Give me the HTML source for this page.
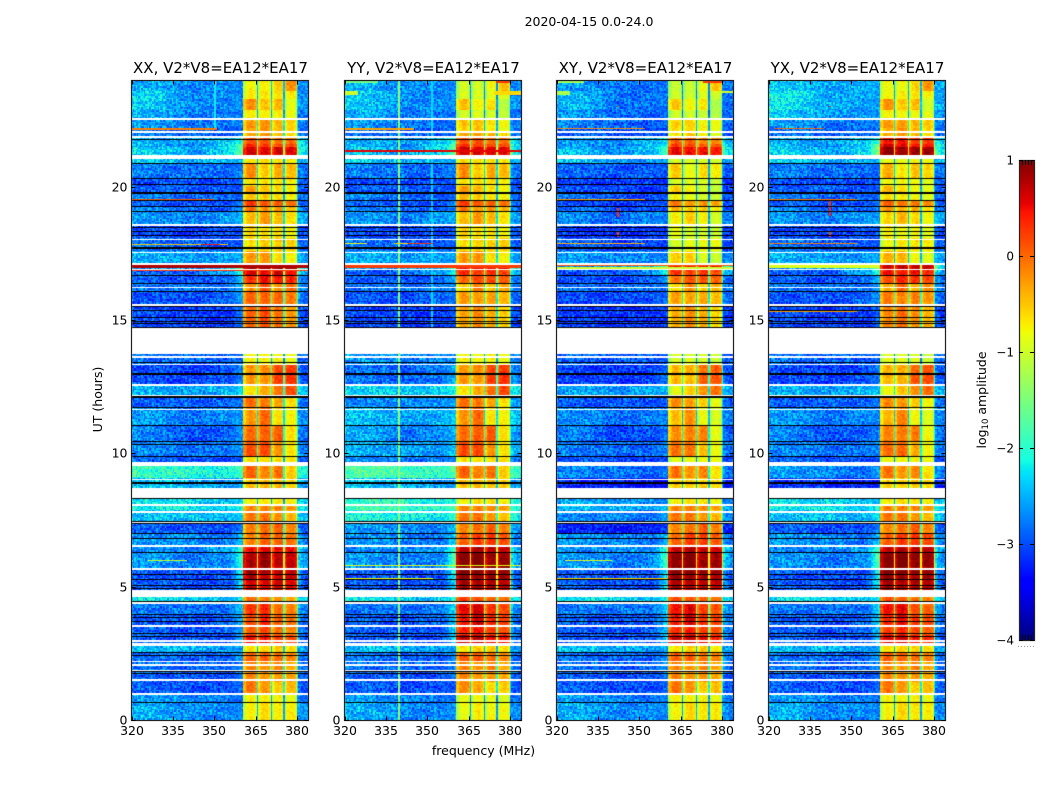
<!DOCTYPE html>
<html lang="en">
<head>
<meta charset="utf-8">
<title>2020-04-15 0.0-24.0</title>
<style>
html,body{margin:0;padding:0;background:#fff;}
#figure{position:relative;width:1050px;height:800px;overflow:hidden;background:#fff;}
canvas{position:absolute;display:block;}
#overlay{position:absolute;left:0;top:0;}
text{font-family:"DejaVu Sans","Liberation Sans",sans-serif;fill:#000;}
</style>
</head>
<body>
<div id="figure">
<svg id="overlay" width="1050" height="800">
<text x="589" y="26" font-size="12.5" text-anchor="middle">2020-04-15 0.0-24.0</text>
<text x="483.5" y="755" font-size="12.5" text-anchor="middle">frequency (MHz)</text>
<text transform="translate(102,399.5) rotate(-90)" font-size="12.5" text-anchor="middle">UT (hours)</text>
<text transform="translate(986,400) rotate(-90)" font-size="12.5" text-anchor="middle">log<tspan font-size="8.5" dy="2">10</tspan><tspan dy="-2"> amplitude</tspan></text>
</svg>
</div>
<script>
// ---------- chart data ----------
const panelTitles = ["XX, V2*V8=EA12*EA17","YY, V2*V8=EA12*EA17","XY, V2*V8=EA12*EA17","YX, V2*V8=EA12*EA17"];
const freqTicks = [320,335,350,365,380];
const hourTicks = [0,5,10,15,20];
const colorbarTicks = [1,0,-1,-2,-3,-4];

// topHour, bottomHour, background near 327, 342, 352 MHz, sub-bands 1..4 (log10 amplitude)
const timeSpans = [
[24.0,23.55,-2.5,-2.7,-2.7,-0.8,-0.8,-0.6,-0.25],
[23.55,23.25,-2.3,-2.7,-2.7,-0.75,-0.75,-0.7,-0.75],
[23.25,22.87,-2.35,-2.7,-2.7,-0.25,-0.55,-0.45,-0.95],
[22.87,22.5,-2.5,-2.75,-2.8,-0.75,-0.75,-0.8,-0.9],
[22.5,22.18,-2.6,-2.8,-2.8,-0.3,-0.3,-0.5,-0.6],
[22.18,21.85,-2.8,-2.9,-2.9,-0.4,-0.3,-0.5,-0.65],
[21.85,21.62,-2.5,-2.6,-2.4,0.1,0.1,-0.1,-0.1],
[21.62,21.45,-2.5,-2.7,-2.3,0.3,0.2,0.1,0.1],
[21.45,21.2,-2.3,-2.6,-2.3,0.6,0.55,0.55,0.5],
[21.2,20.85,-2.3,-2.5,-2.5,-0.7,-0.7,-0.7,-0.75],
[20.85,20.3,-2.75,-2.85,-2.85,-0.25,-0.6,-0.4,-0.5],
[20.3,20.06,-3,-3,-3,-0.7,-0.7,-0.7,-0.8],
[20.06,19.75,-2.9,-2.9,-3,-0.3,-0.5,-0.7,-0.8],
[19.75,19.5,-2.7,-2.9,-2.9,-0.5,-0.6,-0.7,-0.8],
[19.5,19.27,-2.9,-3,-3,0.2,0,0,-0.1],
[19.27,19.07,-2.7,-2.9,-2.9,-0.1,-0.3,-0.3,-0.5],
[19.07,18.6,-2.6,-2.8,-2.6,-0.5,-0.3,-0.5,-0.7],
[18.6,18.05,-3,-3.1,-3,-0.6,-0.7,-0.7,-0.8],
[18.05,17.55,-2.8,-2.95,-2.95,-0.7,-0.6,-0.6,-0.6],
[17.55,17.08,-2.5,-2.6,-2.6,-0.3,-0.3,-0.7,-0.8],
[17.08,16.88,-2.6,-2.6,-2.3,0.8,0.8,0.8,0.8],
[16.88,16.65,-2.9,-2.9,-2.6,0.6,0.5,0.6,0.45],
[16.65,16.35,-2.9,-3,-2.9,0.25,0.45,0.4,0.3],
[16.35,16.05,-2.8,-2.8,-2.8,-0.3,0.1,-0.3,-0.1],
[16.05,15.6,-2.95,-3,-2.9,0,-0.05,-0.05,-0.15],
[15.6,14.68,-3,-3.1,-3.1,-0.05,0.1,-0.1,-0.3],
[13.76,13.35,-2.8,-2.9,-2.9,-0.8,-0.8,-0.8,-0.9],
[13.35,12.97,-3,-3.1,-3,-0.3,-0.25,0.1,0.2],
[12.97,12.58,-3,-3.1,-3,-0.3,-0.3,0.2,0.25],
[12.58,12.15,-2.5,-2.6,-2.5,-0.7,-0.4,-0.1,0.1],
[12.15,11.7,-2.9,-2.9,-2.9,-0.05,-0.15,-0.4,-0.7],
[11.7,11.05,-2.6,-2.8,-2.7,-0.3,-0.05,-0.7,-0.8],
[11.05,10.45,-2.7,-3.0,-2.9,-0.05,0,0,-0.7],
[10.45,9.88,-2.7,-2.8,-2.8,0.1,0.1,-0.3,-0.7],
[9.88,9.53,-2.9,-3,-3,-0.7,-0.7,-0.7,-0.7],
[9.53,9.04,-1.9,-2.0,-2.1,0,-0.2,-0.1,-0.6],
[9.04,8.7,-2.4,-2.5,-2.6,-0.5,-0.5,-0.5,-0.6],
[8.32,8.08,-2.2,-2.3,-2.4,-0.8,-0.7,-0.7,-0.8],
[8.08,7.84,-2.1,-2.2,-2.3,-0.2,-0.2,-0.2,-0.3],
[7.84,7.46,-2.4,-2.4,-2.5,-0.1,-0.1,-0.3,-0.5],
[7.46,7.0,-2.9,-3,-3,-0.2,-0.1,0,-0.2],
[7.0,6.55,-2.6,-2.7,-2.8,-0.2,0,0,-0.1],
[6.55,6.28,-2.7,-2.7,-2.6,0.45,0.55,0.45,0.45],
[6.28,5.68,-2.6,-2.8,-2.7,0.75,0.85,0.65,0.65],
[5.68,5.47,-2.9,-3,-3,0.8,0.75,0.65,0.65],
[5.47,5.27,-3,-3,-3,0.75,0.65,0.6,0.6],
[5.27,4.83,-2.9,-3,-3,0.6,0.55,0.55,0.5],
[4.62,4.42,-2.2,-2.3,-2.4,-0.1,-0.2,-0.3,-0.4],
[4.42,3.97,-2.8,-2.8,-2.8,0.2,0.3,-0.1,-0.2],
[3.97,3.55,-2.9,-3,-2.9,0.1,0.3,0,-0.1],
[3.55,3.15,-2.9,-3,-2.9,0,0.1,-0.1,-0.2],
[3.15,2.88,-2.9,-3,-3,0.4,0.4,0.2,0.1],
[2.79,2.55,-2.4,-2.5,-2.6,-0.7,-0.6,-0.6,-0.7],
[2.55,2.21,-2.8,-2.9,-2.9,0,0,-0.1,-0.2],
[2.21,1.74,-2.8,-2.9,-2.9,-0.2,-0.3,-0.2,-0.4],
[1.74,1.46,-2.9,-3,-3,-0.2,-0.3,-0.3,-0.4],
[1.46,1.03,-2.9,-3,-3,-0.1,-0.3,-0.6,-0.5],
[0.94,0.66,-2.6,-2.7,-2.8,-0.8,-0.8,-0.8,-0.9],
[0.66,0,-2.5,-2.7,-2.7,-0.8,-0.65,-0.75,-0.75]
];

// panel index, topHour, bottomHour, background change, sub-band change
const panelOffsets = [
[1,24,22,0,-0.25],[1,17.1,14.68,0,-0.3],[1,13.76,9.53,0.2,0],[1,9.53,9.04,0.15,0],[1,8.32,7,0.3,0],
[1,7,4.83,0,0.2],[1,4.62,2.88,0,0.3],[1,1.5,0,0,-0.1],
[2,24,17.1,-0.1,-0.3],[2,21.85,21.2,0,0.2],[2,17.1,14.68,-0.05,-0.35],[2,13.76,9.53,-0.05,-0.2],
[2,9.53,8.7,-0.8,-0.1],[2,8.32,7,-0.3,0],[2,7,4.83,0,0.15],[2,4.62,2.88,0,0.25],
[3,24,22.5,0.15,-0.05],[3,21.85,21.2,0,0.3],[3,21.2,14.68,0,-0.15],[3,13.76,9.53,0,-0.15],
[3,9.53,8.7,-0.7,-0.1],[3,7,4.83,0,0.2],[3,4.62,2.88,0,0.2]
];

// masked (blank) time ranges: topHour, bottomHour
const maskedSpans = [
[22.56,22.5],[22.07,22.01],[21.88,21.83],[21.2,21.05],[18.59,18.54],[18.04,17.99],[17.56,17.51],[17.12,17.06],
[16.91,16.87],[16.24,16.19],[15.59,15.54],[14.68,13.76],[13.63,13.57],[13.36,13.3],[12.61,12.57],[12.55,12.51],
[12.2,12.15],[11.66,11.61],[9.67,9.53],[9.05,9.0],[8.7,8.32],[8.09,8.02],[7.85,7.78],[7.44,7.4],[6.56,6.47],
[5.69,5.64],[4.83,4.62],[4.41,4.36],[3.56,3.5],[2.99,2.93],[2.88,2.79],[2.22,2.17],[2.09,2.04],[1.89,1.84],
[1.53,1.46],[1.03,0.94]
];

// black flagged rows: centre hour, thickness in hours
const blackRows = [
[21.78,0.035],[20.88,0.035],[20.3,0.035],[20.07,0.035],[19.77,0.09],[19.47,0.035],[19.27,0.035],[19.08,0.035],
[18.45,0.035],[18.3,0.035],[18.16,0.035],[17.7,0.08],[16.66,0.035],[16.35,0.035],[16.05,0.035],[15.52,0.035],
[15.37,0.035],[15.1,0.035],[14.95,0.035],[14.87,0.035],[14.7,0.035],[13.39,0.035],[12.97,0.07],[12.1,0.07],
[11.7,0.035],[11.05,0.035],[10.45,0.05],[10.33,0.035],[9.88,0.07],[8.9,0.07],[8.3,0.05],[7.46,0.035],[7.37,0.035],
[7.0,0.035],[6.82,0.035],[6.28,0.035],[5.47,0.035],[5.27,0.035],[5.03,0.035],[4.95,0.035],[4.45,0.035],[3.97,0.035],
[3.86,0.035],[3.69,0.035],[3.26,0.035],[3.15,0.035],[2.55,0.035],[2.42,0.035],[1.81,0.035],[1.74,0.035],[0.66,0.035]
];

// interference streaks: panel, topHour, height (hours), startMHz, endMHz, level
const streaks = [
[0,22.18,0.04,320,351,-0.1],[0,19.53,0.04,320,350,0.1],[0,17.85,0.04,320,355,-0.5],[0,17.85,0.04,345,352,0.4],
[0,17.06,0.13,320,384,0.8],[0,16.87,0.05,320,384,0.3],[0,6.01,0.03,326,340,-1],
[1,23.97,0.08,320,332,-1.5],[1,23.97,0.08,375,380,0.3],[1,23.6,0.15,320,325,-1.0],[1,23.6,0.15,374,384,-0.6],
[1,22.18,0.04,320,345,-0.3],[1,21.37,0.08,320,384,0.55],[1,19.1,0.04,320,355,-0.8],[1,17.87,0.04,320,328,-0.8],
[1,17.87,0.04,338,352,-0.6],[1,17.87,0.04,343,352,0.3],[1,17.06,0.12,320,384,0.25],[1,14.89,0.04,320,352,-0.1],
[1,5.82,0.04,320,384,-0.9],[1,5.34,0.04,320,352,-0.8],
[2,23.97,0.08,320,330,-1.2],[2,23.97,0.08,373,380,0.3],[2,23.6,0.15,320,325,-1.2],[2,23.6,0.1,378,384,-1],
[2,23.02,0.05,342,342.5,0.3],[2,22.19,0.04,320,352,-0.2],[2,22.07,0.04,320,352,-1],[2,19.52,0.04,320,352,-0.3],
[2,19.2,0.35,342,342.5,0.3],[2,18.35,0.25,342,342.5,0.2],[2,17.87,0.04,320,352,-0.4],[2,17.08,0.07,320,384,0.1],
[2,17.0,0.08,320,384,-1],[2,5.99,0.03,323,340,-0.9],[2,5.33,0.03,320,360,-0.6],
[3,22.19,0.04,322,340,0],[3,22.07,0.04,320,352,-0.8],[3,19.52,0.04,320,352,-0.1],[3,19.1,0.04,320,352,-0.4],
[3,19.5,0.6,342,342.5,0.3],[3,18.35,0.25,342,342.5,0.2],[3,17.87,0.04,320,352,-0.1],[3,17.05,0.12,320,360,-0.9],
[3,15.35,0.04,320,352,-0.3],[3,14.9,0.04,320,352,-0.3],[3,23.02,0.05,342,342.5,0.3]
];

// single-channel interference: panel, MHz, level, topHour, bottomHour
const channelLines = [
[0,350,-2.2,24,22.2],[1,339.5,-1.4,24,0],[1,351.5,-2.3,24,14.68]
];

// shape of the spectrum, estimated by eye (bandpass roll-off, edge ramp, right-hand shoulder)
const bandShape = [-0.28,-0.06,0.03,0.08,0.1,0.1,0.06,-0.02,-0.18];
const rampShape = [0.02,0.04,0.07,0.1,0.14,0.18,0.22,0.26,0.3,0.34];
const shoulderShape = [0.18,0.12,0.08,0.05,0.03,0.02,0.02];
// channel-to-channel residual texture (approximate, not a pixel readout)
const speckle = "2805173966041827359901472683150974426831775092364018852637190443782516690237815504926173384097126654830199275346018762593140887326051948273365019482766310945287701536924480163759218846027351196640827534";

// ---------- axes ----------
const panelLefts = [131.5,344.5,556.5,768.5];
const plotTop = 80.5, plotBottom = 720.5, pxPerMHz = 2.76, pxPerHour = 26.67;
const xOf = (mhz, left) => left + (mhz - 320) * pxPerMHz;
const yOf = hour => 720 - hour * pxPerHour;

function jetChannel(v, pts){
  for (let i = 1; i < pts.length; i++) {
    if (v <= pts[i][0]) {
      const a = pts[i-1], b = pts[i];
      return a[1] + (b[1]-a[1]) * (v-a[0]) / (b[0]-a[0]);
    }
  }
  return pts[pts.length-1][1];
}
const jetR = [[0,0],[0.35,0],[0.66,1],[0.89,1],[1,0.5]];
const jetG = [[0,0],[0.125,0],[0.375,1],[0.64,1],[0.91,0],[1,0]];
const jetB = [[0,0.5],[0.11,1],[0.34,1],[0.65,0],[1,0]];
function colorOf(level){
  const v = Math.max(0, Math.min(1, (level + 4) / 5));
  return "rgb(" + Math.round(255*jetChannel(v,jetR)) + "," + Math.round(255*jetChannel(v,jetG)) + "," + Math.round(255*jetChannel(v,jetB)) + ")";
}

const channelWidth = 0.5, rowHeight = 0.06;
const subBands = [[360.5,365.5],[366,370.5],[371,375],[375.5,380]];
const gapStarts = [365.5,370.5,375,380];

function grainAt(col, row, panel){
  const i = (col*7 + row*53 + panel*31) % speckle.length;
  return (Number(speckle[i]) - 4.5) / 4.5;
}
function offsetsAt(panel, hour){
  let bg = 0, band = 0;
  panelOffsets.forEach(o => {
    if (o[0] === panel && hour <= o[1] && hour > o[2]) { bg += o[3]; band += o[4]; }
  });
  return [bg, band];
}
function backgroundAt(span, f, off){
  let b;
  if (f < 327.5) b = span[2];
  else if (f < 342.5) b = span[2] + (span[3]-span[2]) * (f-327.5) / 15;
  else if (f < 352.5) b = span[3] + (span[4]-span[3]) * (f-342.5) / 10;
  else b = span[4];
  return b + off[0];
}
function levelAt(span, f, col, row, panel, off){
  const g = grainAt(col, row, panel);
  const s = span.slice(5).map(v => v + off[1]);
  const mean = (s[0]+s[1]+s[2]+s[3]) / 4;
  const bgC = span[4] + off[0];
  const lift = Math.max(0, mean + 0.6);
  if (f < 355.5) return backgroundAt(span, f, off) + g * 0.4;
  if (f < 360.5) {
    const k = Math.floor((f - 355.5) / channelWidth);
    return bgC + rampShape[k] * lift * 2 + g * 0.28;
  }
  if (gapStarts.indexOf(f) >= 0) return mean - 1.8 + g * 0.12;
  if (f > 380) {
    const k = Math.floor((f - 380.5) / channelWidth);
    return bgC + shoulderShape[Math.min(k, shoulderShape.length-1)] * Math.max(0, mean + 1) * 1.5 + g * 0.32;
  }
  for (let b = 0; b < 4; b++) {
    const r = subBands[b];
    if (f >= r[0] && f < r[1]) {
      const t = (f - r[0]) / (r[1] - r[0]);
      return s[b] + bandShape[Math.floor(t * bandShape.length)] + g * 0.14;
    }
  }
  return mean - 1.8;
}

const figure = document.getElementById("figure");
const overlay = document.getElementById("overlay");
const NS = "http://www.w3.org/2000/svg";

function drawPanel(panel){
  const left = panelLefts[panel];
  const canvas = document.createElement("canvas");
  
  
  const W = 177, H = 640, ox = Math.floor(left), oy = 80;
  canvas.width = W; canvas.height = H;
  canvas.style.left = ox + "px";
  canvas.style.top = oy + "px";
  figure.insertBefore(canvas, overlay);
  const ctx = canvas.getContext("2d");
  ctx.fillStyle = "#fff";
  ctx.fillRect(0,0,W,H);

  const band = (hourTop, hourBottom, f0, f1, color) => {
    const x0 = Math.round(xOf(f0,left)) - ox, x1 = Math.round(xOf(f1,left)) - ox;
    const y0 = Math.round(yOf(hourTop)) - oy;
    const y1 = Math.max(y0 + 1, Math.round(yOf(hourBottom)) - oy);
    ctx.fillStyle = color;
    ctx.fillRect(x0, y0, Math.max(1, x1-x0), y1-y0);
  };

  const rows = Math.ceil(24 / rowHeight);
  for (let row = 0; row < rows; row++) {
    const top = 24 - row * rowHeight, bottom = top - rowHeight, mid = top - rowHeight/2;
    const span = timeSpans.find(s => mid <= s[0] && mid > s[1]);
    if (!span) continue;
    const off = offsetsAt(panel, mid);
    for (let col = 0; col < 128; col++) {
      const f = 320 + col * channelWidth;
      band(top, bottom, f, f + channelWidth, colorOf(levelAt(span, f, col, row, panel, off)));
    }
  }
  channelLines.filter(c => c[0] === panel).forEach(c => {
    band(c[3], c[4], c[1], c[1] + channelWidth, colorOf(c[2]));
  });
  streaks.filter(s => s[0] === panel).forEach(s => {
    band(s[1], s[1] - s[2], s[3], s[4], colorOf(s[5]));
  });
  maskedSpans.forEach(m => band(m[0], m[1], 320, 384, "#fff"));
  blackRows.forEach(b => band(b[0] + b[1]/2, b[0] - b[1]/2, 320, 384, "#000"));
}

function addLine(x1,y1,x2,y2,name){
  const l = document.createElementNS(NS,"line");
  l.setAttribute("x1",x1); l.setAttribute("y1",y1);
  l.setAttribute("x2",x2); l.setAttribute("y2",y2);
  l.setAttribute("stroke","#000"); l.setAttribute("stroke-width","1");
  
  
  overlay.appendChild(l);
}
function addText(x,y,str,anchor,size,name){
  const t = document.createElementNS(NS,"text");
  t.setAttribute("x",x); t.setAttribute("y",y);
  t.setAttribute("text-anchor",anchor); t.setAttribute("font-size",size);
  t.textContent = str;
  
  
  overlay.appendChild(t);
}
function addFrame(x,y,w,h,name){
  const r = document.createElementNS(NS,"rect");
  r.setAttribute("x",x); r.setAttribute("y",y);
  r.setAttribute("width",w); r.setAttribute("height",h);
  r.setAttribute("fill","none"); r.setAttribute("stroke","#222"); r.setAttribute("stroke-width","1.2");
  
  
  overlay.appendChild(r);
}

panelTitles.forEach((title, p) => {
  drawPanel(p);
  const left = panelLefts[p];
  addFrame(left, plotTop, 177, plotBottom - plotTop, 'panel-frame');
  addText(left + 89, 73, title, "middle", 15, 'panel-title');
  freqTicks.forEach(f => {
    const x = Math.round(xOf(f,left)) + 0.5;
    addLine(x, plotBottom, x, plotBottom - 4, 'x-tick');
    addLine(x, plotTop, x, plotTop + 4, 'x-tick-top');
    addText(x - 0.5, 735, String(f), "middle", 12.5, 'x-tick-label');
  });
  hourTicks.forEach(h => {
    const y = Math.round(yOf(h)) + 0.5;
    addLine(left, y, left + 4, y, 'y-tick');
    addLine(left + 177, y, left + 173, y, 'y-tick-right');
    addText(left - 4, y + 4, String(h), "end", 12.5, 'y-tick-label');
  });
});

// ---------- colorbar ----------
(function(){
  const cbX = 1019, cbTop = 160, cbH = 480, cbW = 15;
  const yOfLevel = lv => cbTop + (1 - lv) / 5 * cbH;
  const c = document.createElement("canvas");
  
  
  c.width = cbW; c.height = cbH;
  c.style.left = cbX + "px"; c.style.top = cbTop + "px";
  figure.insertBefore(c, overlay);
  const ctx = c.getContext("2d");
  for (let i = 0; i < cbH; i++) {
    ctx.fillStyle = colorOf(1 - (i + 0.5) / cbH * 5);
    ctx.fillRect(0, i, cbW, 1);
  }
  addFrame(cbX + 0.5, cbTop + 0.5, cbW, cbH, 'colorbar-frame');
  colorbarTicks.forEach(t => {
    const y = Math.round(yOfLevel(t)) + 0.5;
    addLine(cbX, y, cbX + 4, y, 'colorbar-tick');
    addLine(cbX + 15, y, cbX + 11, y, 'colorbar-tick-right');
    addText(1014, y + 4, (t < 0 ? "\u2212" : "") + Math.abs(t), "end", 12, 'colorbar-tick-label');
  });
  [3,6,9,12].forEach(dx => {
    addLine(cbX + dx + 0.5, cbTop, cbX + dx + 0.5, cbTop + 5, 'colorbar-edge-tick-top');
    addLine(cbX + dx + 0.5, cbTop + cbH, cbX + dx + 0.5, cbTop + cbH - 5, 'colorbar-edge-tick-bottom');
  });
  [0,3,6,9,12,15].forEach(dx => {
    const d = document.createElementNS(NS,"rect");
    d.setAttribute("x", cbX + dx - 1); d.setAttribute("y", 646);
    d.setAttribute("width", 1); d.setAttribute("height", 1);
    d.setAttribute("fill", "#999");
    
    
    overlay.appendChild(d);
  });
})();
</script>
</body>
</html>
